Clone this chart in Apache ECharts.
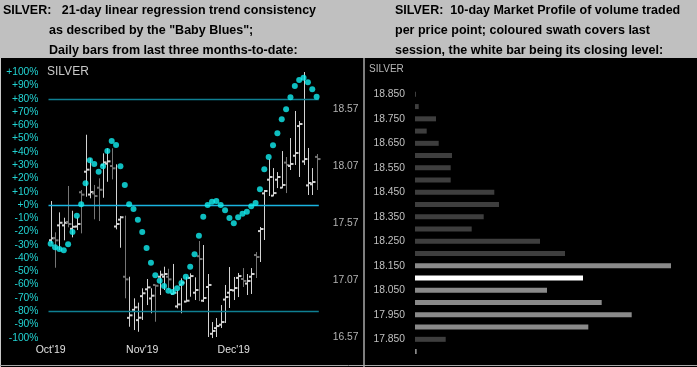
<!DOCTYPE html>
<html><head><meta charset="utf-8">
<script src="https://cdn.jsdelivr.net/npm/echarts@6/dist/echarts.min.js"></script>
<style>html,body{margin:0;padding:0;background:#000}#c{width:697px;height:367px}</style>
</head><body><div id="c"></div><script>
// ---- Left panel: daily OHLC bars (price) ----
const openP  = [17.42,17.44,17.55,17.55,17.58,17.52,17.54,17.84,18.02,17.82, 17.83,17.88,18.08,18.09,18.07,17.54,17.60,17.10,16.74,16.81, 16.72,16.93,16.99,16.91,17.028,17.10,17.10,17.10,16.95,16.84, 17.03,16.882,17.09,16.96,17.28,16.89,17.01,16.60,16.65,16.68, 16.90,16.96,16.98,17.09,17.08,17.04,17.10,17.29,17.50,17.83, 17.95,17.81,17.95,17.88,18.10,18.07,18.16,18.42,18.11,17.90,17.91,18.15];
const highP  = [17.763,17.489,17.664,17.617,17.895,17.678,17.621,17.860,18.344,18.137, 17.904,17.962,18.181,18.225,18.225,18.085,17.632,17.635,17.100,16.911, 16.873,16.999,17.080,16.999,17.028,17.153,17.188,17.170,17.212,16.984, 17.086,17.100,17.130,17.095,17.413,17.378,17.124,16.703,16.738,16.852, 17.028,17.185,17.098,17.133,17.176,17.124,17.176,17.317,17.536,17.860, 18.131,18.052,18.017,18.201,18.149,18.315,18.552,18.464,18.893,18.228,18.052,18.175];
const lowP   = [17.393,17.179,17.334,17.419,17.533,17.445,17.509,17.480,17.801,17.787, 17.603,17.588,17.792,17.932,17.953,17.515,17.354,16.911,16.662,16.633, 16.618,16.721,16.852,16.780,16.706,16.940,16.984,16.984,16.946,16.823, 16.780,16.881,16.925,16.896,16.887,16.879,16.572,16.563,16.572,16.651, 16.695,16.826,16.896,16.922,17.010,16.940,16.949,17.089,17.229,17.422, 17.807,17.807,17.877,17.877,17.833,18.035,18.079,17.974,18.079,17.816,17.816,17.860];
const closeP = [17.437,17.419,17.573,17.573,17.562,17.538,17.562,17.819,18.038,17.842, 17.807,17.862,18.102,18.111,18.050,17.562,17.621,17.077,16.762,16.832, 16.741,16.955,17.007,16.934,17.021,17.118,17.124,17.077,16.960,16.858, 17.048,16.890,17.106,16.984,17.255,16.914,17.028,16.625,16.668,16.703, 16.922,16.984,17.001,17.106,17.063,17.063,17.124,17.273,17.518,17.851, 17.974,17.833,17.974,17.904,18.079,18.088,18.184,18.438,18.131,17.921,17.930,18.131];
// "Baby Blues": 21-day linear regression trend consistency (%)
const babyBlues = [-29.2,-31.9,-33.2,-34.1,-29.6,-20.3,-8.1,0.5,16.4,33.7, 30.9,25.1,29.2,40.7,48.2,45.2,29.2,15.1,0.5,-3.0, -11.1,-20.3,-32.4,-43.5,-53.0,-57.0,-61.0,-64.6,-65.6,-62.8, -58.8,-54.0,-46.5,-37.2,-23.1,-8.8,0,2.5,3.0,0, -4.0,-9.8,-13.8,-9.3,-6.6,-5.0,-1.0,1.5,11.8,26.9, 36.2,45.0,54.0,64.6,72.1,81.2,89.7,94.2,95.9,92.5, 87.2,81.6];
const monthLabels = ["Oct'19", "Nov'19", "Dec'19"];
const monthStarts = [0, 21, 42];
const refLevels = [80, 0, -80];
const priceTicks = [16.57, 17.07, 17.57, 18.07, 18.57];
// ---- Right panel: 10-day market profile ----
const profilePrices = ['18.850','18.800','18.750','18.700','18.650','18.600','18.550','18.500','18.450','18.400','18.350','18.300','18.250','18.200','18.150','18.100','18.050','18.000','17.950','17.900','17.850','17.800'];
const profileVolume = [1, 3.7, 21, 11.7, 23.7, 37, 35.7, 35.7, 79.3, 84, 68.7, 56.7, 125, 150, 256, 168, 132, 186.7, 216.7, 173.3, 30.7, 1.7];
// p = prior sessions, s = last session swath, c = closing level
const profileKind = ['p','p','p','p','p','p','p','p','p','p','p','p','p','p','s','c','s','s','s','s','p','s'];

const days = closeP.map((_, i) => String(i));
const ohlc = closeP.map((c, i) => [i, openP[i], highP[i], lowP[i], c]);
const kindColor = {p: '#3e3e3e', s: '#8a8a8a', c: '#ffffff'};

const chart = echarts.init(document.getElementById('c'), null, {renderer: 'canvas'});
const hdrFont = 'bold 12.5px "Liberation Sans", Arial, sans-serif';
const txt = (x, y, s, font, fill, align) => ({type: 'text', x, y, silent: true,
  style: {text: s, font, fill, textAlign: align || 'left', textVerticalAlign: 'middle'}});

chart.setOption({
  backgroundColor: '#000',
  animation: false,
  graphic: [
    {type: 'rect', shape: {x: 0, y: 0, width: 697, height: 58}, style: {fill: '#c0c0c0'}, z: -1},
    {type: 'line', shape: {x1: 0.5, y1: 58, x2: 0.5, y2: 367}, style: {stroke: '#c8c8c8', lineWidth: 1}},
    {type: 'line', shape: {x1: 0, y1: 365.5, x2: 697, y2: 365.5}, style: {stroke: '#a8a8a8', lineWidth: 1}},
    {type: 'line', shape: {x1: 364, y1: 58, x2: 364, y2: 367}, style: {stroke: '#a8a8a8', lineWidth: 1.5}},
    txt(3, 10.5, 'SILVER:   21-day linear regression trend consistency', hdrFont, '#000'),
    txt(49, 30.5, 'as described by the "Baby Blues";', hdrFont, '#000'),
    txt(49, 50.7, 'Daily bars from last three months-to-date:', hdrFont, '#000'),
    txt(395, 10.5, 'SILVER:  10-day Market Profile of volume traded', hdrFont, '#000'),
    txt(395, 30.5, 'per price point; coloured swath covers last', hdrFont, '#000'),
    txt(395, 50.7, 'session, the white bar being its closing level:', hdrFont, '#000'),
    txt(47, 72, 'SILVER', '12px "Liberation Sans", Arial, sans-serif', '#c8c8c8'),
    txt(369, 69, 'SILVER', '10px "Liberation Sans", Arial, sans-serif', '#b8b8b8')
  ],
  grid: [
    {left: 48.5, width: 270.3, top: 72.3, height: 265.4},
    {left: 415, width: 270, top: 88.2, height: 269.5}
  ],
  xAxis: [
    {type: 'category', gridIndex: 0, data: days, boundaryGap: true,
     axisLine: {show: false}, axisTick: {show: false}, splitLine: {show: false},
     axisLabel: {interval: (i) => monthStarts.includes(i), margin: 7,
       formatter: (v, i) => monthLabels[monthStarts.indexOf(i)] || '',
       color: '#e0e0e0', fontSize: 10.5, fontFamily: '"Liberation Sans", Arial, sans-serif'}},
    {type: 'value', gridIndex: 1, min: 0, max: 270, show: false}
  ],
  yAxis: [
    {type: 'value', gridIndex: 0, min: -100, max: 100, interval: 10, position: 'left',
     axisLine: {show: false}, axisTick: {show: false}, splitLine: {show: false},
     axisLabel: {margin: 10, color: '#22d2d2', fontSize: 10.3, fontFamily: '"Liberation Sans", Arial, sans-serif',
       formatter: (v) => (v >= 0 ? '+' : '') + v + '%'}},
    {type: 'value', gridIndex: 0, min: 16.566, max: 18.891, position: 'right',
     axisLine: {show: false}, axisTick: {show: false}, splitLine: {show: false},
     axisLabel: {customValues: priceTicks, margin: 14, color: '#b4b4b4', fontSize: 10.3,
       fontFamily: '"Liberation Sans", Arial, sans-serif', formatter: (v) => v.toFixed(2)}},
    {type: 'category', gridIndex: 1, data: profilePrices, inverse: true,
     axisLine: {show: false}, axisTick: {show: false}, splitLine: {show: false},
     axisLabel: {interval: 1, margin: 10, color: '#c0c0c0', fontSize: 10.3,
       fontFamily: '"Liberation Sans", Arial, sans-serif'}}
  ],
  series: [
    {type: 'custom', xAxisIndex: 0, yAxisIndex: 1, data: ohlc, z: 2,
     renderItem: (params, api) => {
       const i = api.value(0);
       const o = api.coord([i, api.value(1)]);
       const h = api.coord([i, api.value(2)]);
       const l = api.coord([i, api.value(3)]);
       const c = api.coord([i, api.value(4)]);
       const x = Math.round(h[0]) + 0.5;
       const col = api.value(4) >= api.value(1) ? '#d4d4d4' : '#767676';
       return {type: 'group', children: [
         {type: 'line', shape: {x1: x, y1: h[1], x2: x, y2: l[1]}, style: {stroke: col, lineWidth: 1}},
         {type: 'line', shape: {x1: x - 2.5, y1: o[1], x2: x, y2: o[1]}, style: {stroke: col, lineWidth: 2}},
         {type: 'line', shape: {x1: x, y1: c[1], x2: x + 3, y2: c[1]}, style: {stroke: col, lineWidth: 2}}
       ]};
     }},
    {type: 'scatter', xAxisIndex: 0, yAxisIndex: 0, data: babyBlues, z: 5,
     symbolSize: 6, itemStyle: {color: '#12eef0'},
     markLine: {silent: true, symbol: 'none', label: {show: false},
       data: refLevels.map(v => ({yAxis: v, lineStyle: {color: v === 0 ? '#1ab4e0' : '#0f7f92', width: 1.3, type: 'solid'}}))}},
    {type: 'bar', xAxisIndex: 1, yAxisIndex: 2, barWidth: 5,
     data: profileVolume.map((v, i) => ({value: v, itemStyle: {color: kindColor[profileKind[i]]}}))}
  ]
});
</script></body></html>
